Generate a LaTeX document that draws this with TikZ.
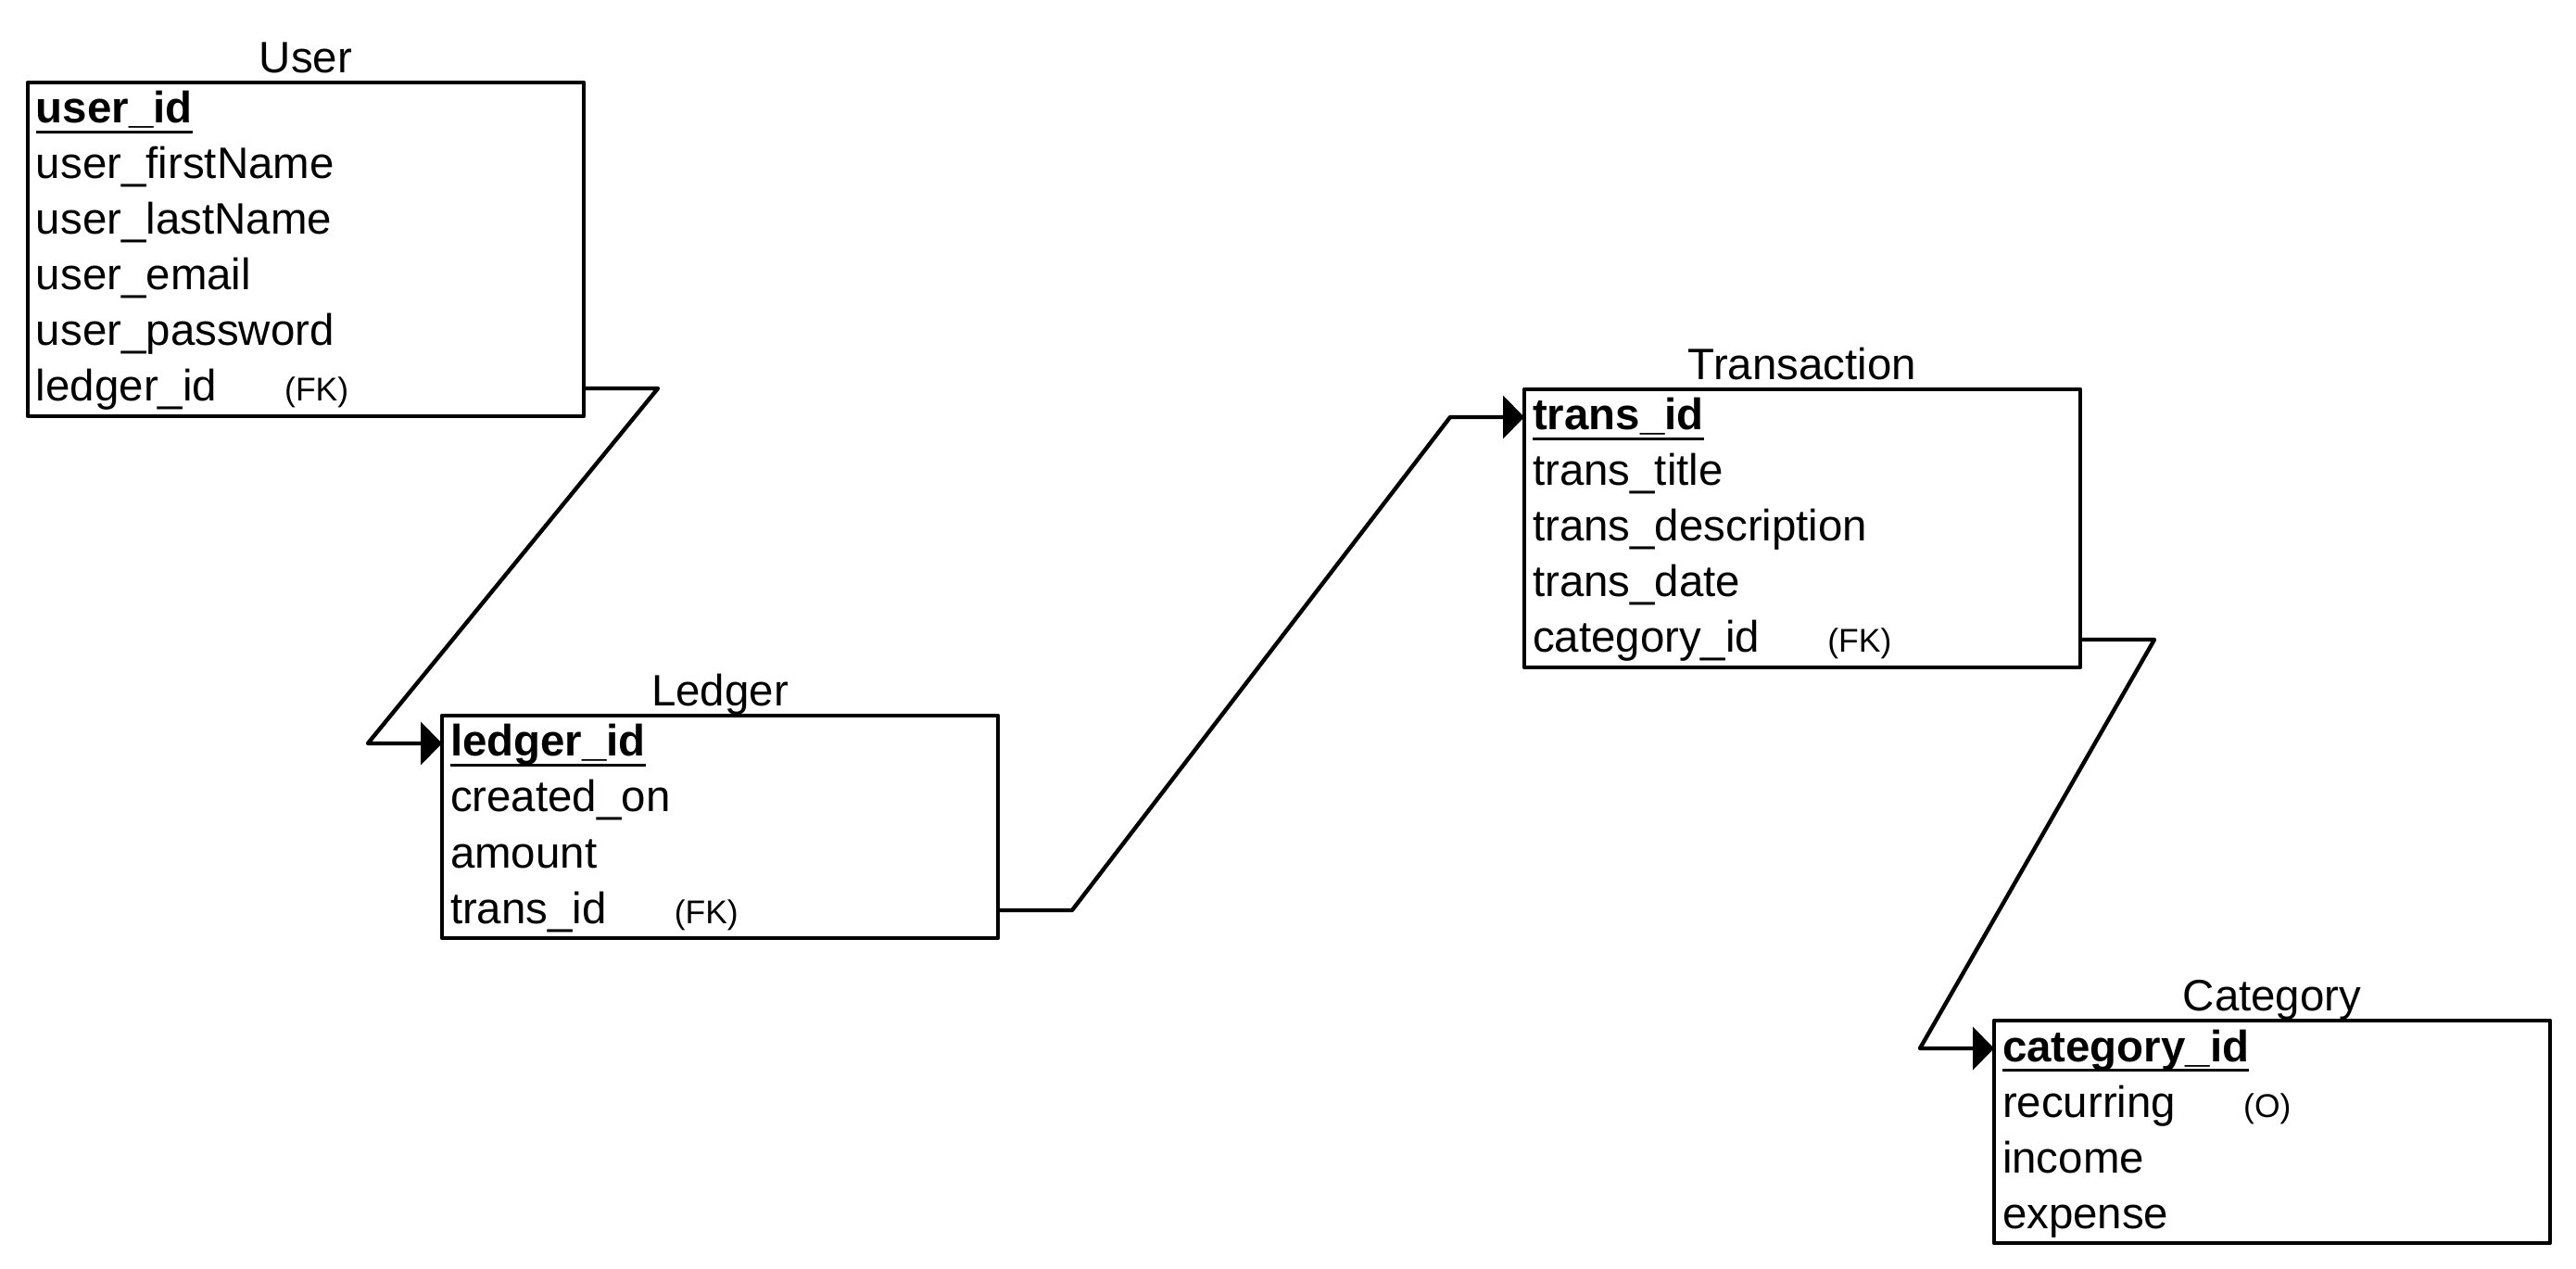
\documentclass[tikz,border=0pt]{standalone}
\usepackage{fontspec}
\setmainfont{Liberation Sans}
\usepackage{tikz}
\usetikzlibrary{positioning}
\usetikzlibrary{fit}
\usetikzlibrary{arrows.meta}

\newcommand{\pkey}[1]{\sbox0{\textbf{#1}}\rlap{\rule[-1.1mm]{\wd0}{0.27mm}}\usebox0}
\newcommand{\fkey}[1]{\hspace{7.3mm}{\fontsize{10.1}{11}\selectfont #1}}

\begin{document}
\begin{tikzpicture}[line cap=round,line join=round,x=1mm,y=1mm,
  row/.style={inner xsep=0.9mm,inner ysep=0pt,outer sep=0pt,minimum height=6mm,text width=58.2mm,align=left,
    text height=3.3mm,text depth=0.5mm,font=\fontsize{13.5}{16}\selectfont},
  tbl/.style={draw,line width=1.3pt,inner sep=0pt,outer sep=0pt},
  title/.style={font=\fontsize{13.5}{16}\selectfont,inner sep=0pt,text depth=0pt},
  link/.style={line width=1.25pt,-{Triangle[length=2.3mm,width=4.6mm]}}]
\useasboundingbox (0,0) rectangle (278,136.8);

\node[row,anchor=north west] (u1) at (3,127.9) {\pkey{user\_id}};
\node[row,below=0pt of u1] (u2) {user\_firstName};
\node[row,below=0pt of u2] (u3) {user\_lastName};
\node[row,below=0pt of u3] (u4) {user\_email};
\node[row,below=0pt of u4] (u5) {user\_password};
\node[row,below=0pt of u5] (u6) {ledger\_id\fkey{(FK)}};
\node[tbl,fit=(u1)(u6),label={[title,label distance=1mm]above:User}] (user) {};

\node[row,anchor=north west] (l1) at (47.7,59.6) {\pkey{ledger\_id}};
\node[row,below=0pt of l1] (l2) {created\_on};
\node[row,below=0pt of l2] (l3) {amount};
\node[row,below=0pt of l3] (l4) {trans\_id\fkey{(FK)}};
\node[tbl,fit=(l1)(l4),label={[title,label distance=1mm]above:Ledger}] (ledger) {};

\node[row,anchor=north west] (t1) at (164.5,94.8) {\pkey{trans\_id}};
\node[row,below=0pt of t1] (t2) {trans\_title};
\node[row,below=0pt of t2] (t3) {trans\_description};
\node[row,below=0pt of t3] (t4) {trans\_date};
\node[row,below=0pt of t4] (t5) {category\_id\fkey{(FK)}};
\node[tbl,fit=(t1)(t5),label={[title,label distance=1mm]above:Transaction}] (trans) {};

\node[row,anchor=north west] (c1) at (215.2,26.7) {\pkey{category\_id}};
\node[row,below=0pt of c1] (c2) {recurring\fkey{(O)}};
\node[row,below=0pt of c2] (c3) {income};
\node[row,below=0pt of c3] (c4) {expense};
\node[tbl,fit=(c1)(c4),label={[title,label distance=1mm]above:Category}] (cat) {};

\draw[link] (u6.east) -- ++(8,0) -- ([xshift=-8mm]l1.west) -- (l1.west);
\draw[link] (l4.east) -- ++(8,0) -- ([xshift=-8mm]t1.west) -- (t1.west);
\draw[link] (t5.east) -- ++(8,0) -- ([xshift=-8mm]c1.west) -- (c1.west);
\end{tikzpicture}
\end{document}
